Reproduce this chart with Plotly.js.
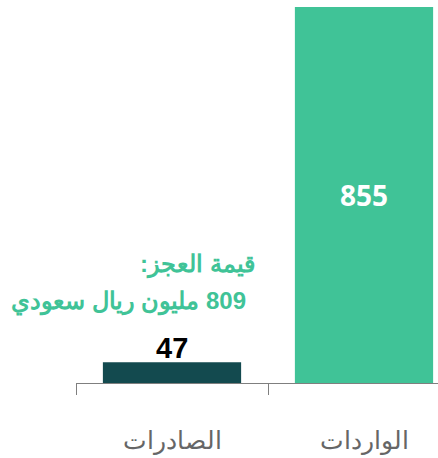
<!DOCTYPE html>
<html>
<head>
<meta charset="utf-8">
<script src="https://cdn.plot.ly/plotly-3.0.1.min.js"></script>
<style>html,body{margin:0;padding:0;background:#fff;}#chart{width:438px;height:458px;}</style>
</head>
<body>
<div id="chart"></div>
<script>
const categories = ["الصادرات", "الواردات"];
const values = [47, 855];
const barColors = ["#134A4F", "#40C397"];
const deficitTitle = "قيمة العجز:";
const deficitValue = 809;
const deficitUnit = "مليون ريال سعودي";

const RLM = "\u200F";

const trace = {
  type: "bar",
  x: categories,
  y: values,
  width: 0.72,
  marker: {color: barColors, line: {width: 0}},
  text: values.map((v, i) => i === 1 ? "<b>" + v + "</b>" : ""),
  textposition: "inside",
  insidetextanchor: "middle",
  textfont: {color: "#ffffff", size: 28, family: "Open Sans, sans-serif"},
  constraintext: "none",
  cliponaxis: false,
  hoverinfo: "skip"
};

const layout = {
  width: 438,
  height: 458,
  margin: {l: 76, r: 0, t: 7, b: 75, pad: 0},
  paper_bgcolor: "#ffffff",
  plot_bgcolor: "#ffffff",
  showlegend: false,
  font: {family: "Liberation Sans, Arial, sans-serif"},
  xaxis: {
    type: "category",
    range: [-0.5, -0.5 + 362 / 192],
    showline: true,
    linecolor: "#7f7f7f",
    linewidth: 1,
    ticks: "outside",
    tickson: "boundaries",
    ticklen: 11,
    tickcolor: "#7f7f7f",
    tickwidth: 1,
    ticklabelstandoff: 35,
    tickfont: {size: 25, color: "#666666", family: "Liberation Sans, Arial, sans-serif"},
    showgrid: false,
    zeroline: false,
    fixedrange: true
  },
  yaxis: {
    range: [0, 855],
    showgrid: false,
    zeroline: false,
    showline: false,
    showticklabels: false,
    ticks: "",
    fixedrange: true
  },
  annotations: [
    {
      xref: "x", yref: "y",
      x: categories[0], y: values[0],
      xanchor: "center", yanchor: "bottom",
      yshift: -4,
      text: "<b>" + values[0] + "</b>",
      showarrow: false,
      font: {size: 29, color: "#000000", family: "Liberation Sans, Arial, sans-serif"}
    },
    {
      xref: "paper", yref: "paper",
      x: 0.5, y: 0.316,
      xanchor: "right", yanchor: "middle",
      text: "<b>" + deficitTitle + RLM + "</b>",
      showarrow: false,
      font: {size: 24, color: "#40C397", family: "Liberation Sans, Arial, sans-serif"}
    },
    {
      xref: "paper", yref: "paper",
      x: 0.475, y: 0.218,
      xanchor: "right", yanchor: "middle",
      text: "<b>" + RLM + deficitValue + " " + deficitUnit + "</b>",
      showarrow: false,
      font: {size: 24, color: "#40C397", family: "Liberation Sans, Arial, sans-serif"}
    }
  ]
};

Plotly.newPlot("chart", [trace], layout, {displayModeBar: false, staticPlot: true});
</script>
</body>
</html>
